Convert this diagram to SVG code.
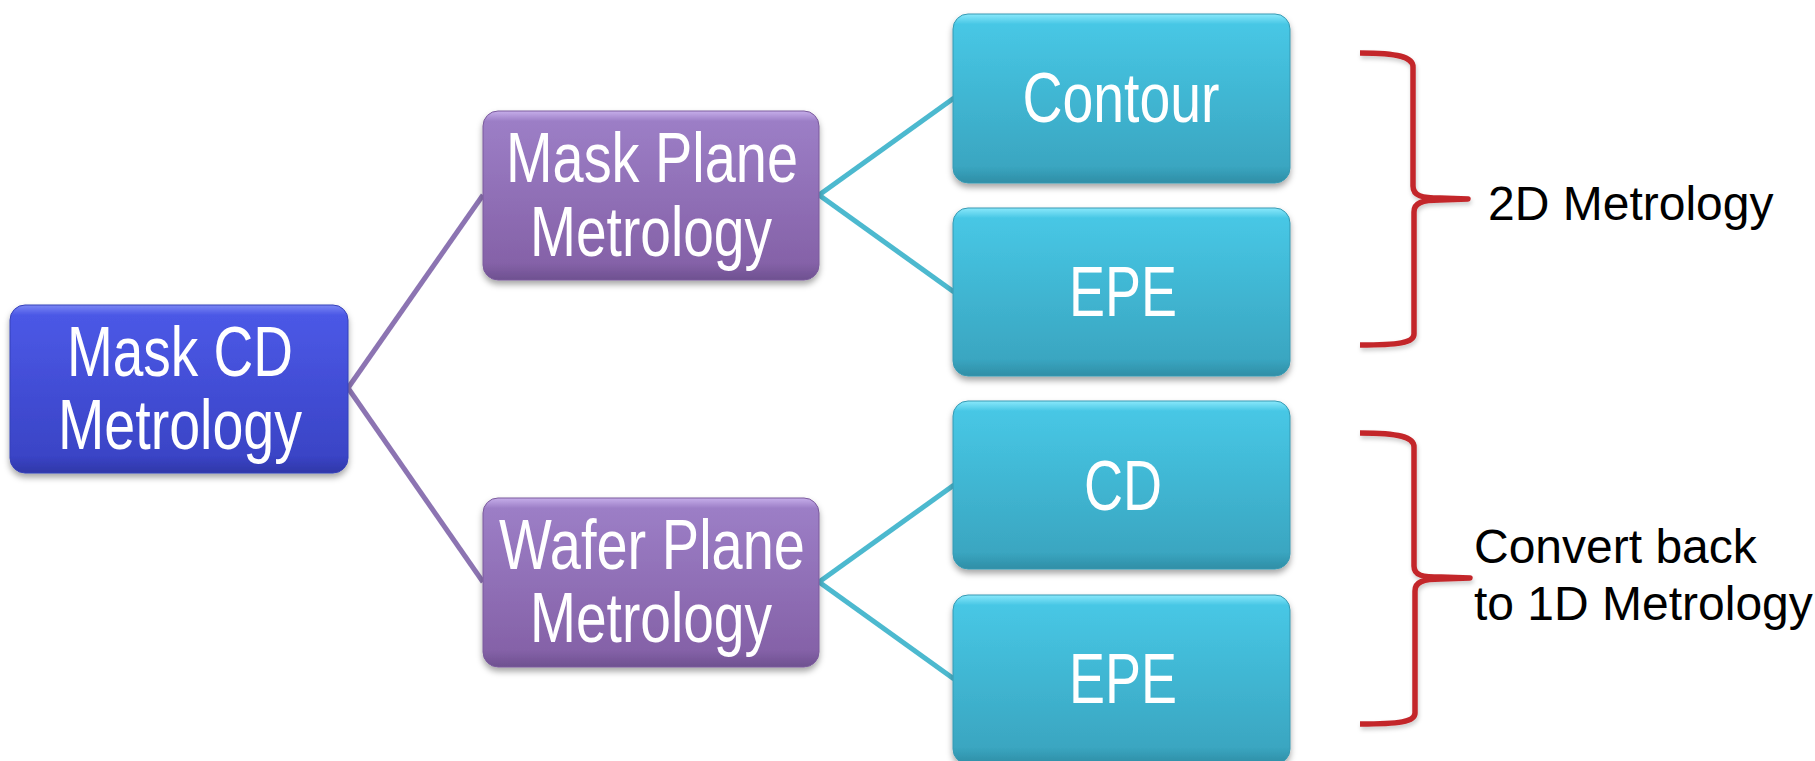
<svg xmlns="http://www.w3.org/2000/svg" width="1815" height="761" viewBox="0 0 1815 761">
  <defs>
    <linearGradient id="gBlue" x1="0" y1="0" x2="0" y2="1">
      <stop offset="0" stop-color="#7a86f4"/>
      <stop offset="0.06" stop-color="#4b58e6"/>
      <stop offset="0.9" stop-color="#3a44c6"/>
      <stop offset="1" stop-color="#2f37a8"/>
    </linearGradient>
    <linearGradient id="gPurple" x1="0" y1="0" x2="0" y2="1">
      <stop offset="0" stop-color="#c6aeea"/>
      <stop offset="0.06" stop-color="#9c7ec6"/>
      <stop offset="0.9" stop-color="#8562a8"/>
      <stop offset="1" stop-color="#6e5090"/>
    </linearGradient>
    <linearGradient id="gCyan" x1="0" y1="0" x2="0" y2="1">
      <stop offset="0" stop-color="#8ae8fb"/>
      <stop offset="0.06" stop-color="#47c7e5"/>
      <stop offset="0.9" stop-color="#3aa6c1"/>
      <stop offset="1" stop-color="#2f8ea6"/>
    </linearGradient>
    <filter id="shadow" x="-10%" y="-10%" width="120%" height="130%">
      <feDropShadow dx="0" dy="4" stdDeviation="3" flood-color="#000" flood-opacity="0.35"/>
    </filter>
    <filter id="lineShadow" x="-10%" y="-10%" width="130%" height="130%">
      <feDropShadow dx="1" dy="3" stdDeviation="2" flood-color="#000" flood-opacity="0.2"/>
    </filter>
  </defs>
  <style>
    .box { filter: url(#shadow); }
    .blue { fill: url(#gBlue); stroke: #3540b8; stroke-width: 1; }
    .purple { fill: url(#gPurple); stroke: #7a5a9c; stroke-width: 1; }
    .cyan { fill: url(#gCyan); stroke: #3699b2; stroke-width: 1; }
    .label { font-family: "Liberation Sans", Arial, sans-serif; font-size: 71px; fill: #ffffff; text-anchor: middle; }
    .note { font-family: "Liberation Sans", Arial, sans-serif; font-size: 48px; fill: #000000; }
    .linkP { stroke: #8c74b2; stroke-width: 5; fill: none; }
    .linkC { stroke: #4cb9cf; stroke-width: 5; fill: none; }
    .brace { stroke: #c3272b; stroke-width: 5.5; fill: none; stroke-linejoin: round; stroke-linecap: butt; filter: url(#lineShadow); }
  </style>

  <rect width="1815" height="761" fill="#ffffff"/>

  <!-- connectors -->
  <g id="connectors">
    <line class="linkP" x1="348" y1="388" x2="483" y2="195"/>
    <line class="linkP" x1="348" y1="388" x2="483" y2="582"/>
    <line class="linkC" x1="819" y1="195" x2="954" y2="98"/>
    <line class="linkC" x1="819" y1="195" x2="954" y2="292"/>
    <line class="linkC" x1="819" y1="582" x2="954" y2="485"/>
    <line class="linkC" x1="819" y1="582" x2="954" y2="679"/>
  </g>

  <!-- root node -->
  <g id="mask-cd-metrology">
    <rect class="box blue" x="10" y="305" width="338" height="168" rx="15"/>
    <text class="label" x="180" y="376" textLength="226" lengthAdjust="spacingAndGlyphs">Mask CD</text>
    <text class="label" x="180" y="449" textLength="244" lengthAdjust="spacingAndGlyphs">Metrology</text>
  </g>

  <!-- second level -->
  <g id="mask-plane-metrology">
    <rect class="box purple" x="483" y="111" width="336" height="169" rx="15"/>
    <text class="label" x="652" y="182" textLength="292" lengthAdjust="spacingAndGlyphs">Mask Plane</text>
    <text class="label" x="651" y="256" textLength="242" lengthAdjust="spacingAndGlyphs">Metrology</text>
  </g>
  <g id="wafer-plane-metrology">
    <rect class="box purple" x="483" y="498" width="336" height="169" rx="15"/>
    <text class="label" x="652" y="569" textLength="306" lengthAdjust="spacingAndGlyphs">Wafer Plane</text>
    <text class="label" x="651" y="642" textLength="242" lengthAdjust="spacingAndGlyphs">Metrology</text>
  </g>

  <!-- leaves -->
  <g id="contour">
    <rect class="box cyan" x="953" y="14" width="337" height="169" rx="15"/>
    <text class="label" x="1121" y="122" textLength="197" lengthAdjust="spacingAndGlyphs">Contour</text>
  </g>
  <g id="epe-mask">
    <rect class="box cyan" x="953" y="208" width="337" height="168" rx="15"/>
    <text class="label" x="1123" y="316" textLength="108" lengthAdjust="spacingAndGlyphs">EPE</text>
  </g>
  <g id="cd">
    <rect class="box cyan" x="953" y="401" width="337" height="168" rx="15"/>
    <text class="label" x="1123" y="510" textLength="78" lengthAdjust="spacingAndGlyphs">CD</text>
  </g>
  <g id="epe-wafer">
    <rect class="box cyan" x="953" y="595" width="337" height="169" rx="15"/>
    <text class="label" x="1123" y="703" textLength="108" lengthAdjust="spacingAndGlyphs">EPE</text>
  </g>

  <!-- braces and their notes -->
  <g id="brace-2d">
    <path class="brace" d="M1360,53 C1398,53 1413,57 1413,67 L1413,186 C1413,196 1422,198 1440,198 L1468,199 L1440,200 C1422,200 1414,203 1414,212 L1414,334 C1414,343 1398,345 1360,345"/>
    <text class="note" x="1488" y="220">2D Metrology</text>
  </g>
  <g id="brace-1d">
    <path class="brace" d="M1360,433 C1399,433 1414,437 1414,447 L1414,566 C1414,576 1423,577 1441,577 L1470,578 L1441,579 C1423,579 1415,582 1415,591 L1415,713 C1415,722 1399,724 1360,724"/>
    <text class="note" x="1474" y="563">Convert back</text>
    <text class="note" x="1474" y="620">to 1D Metrology</text>
  </g>
</svg>
